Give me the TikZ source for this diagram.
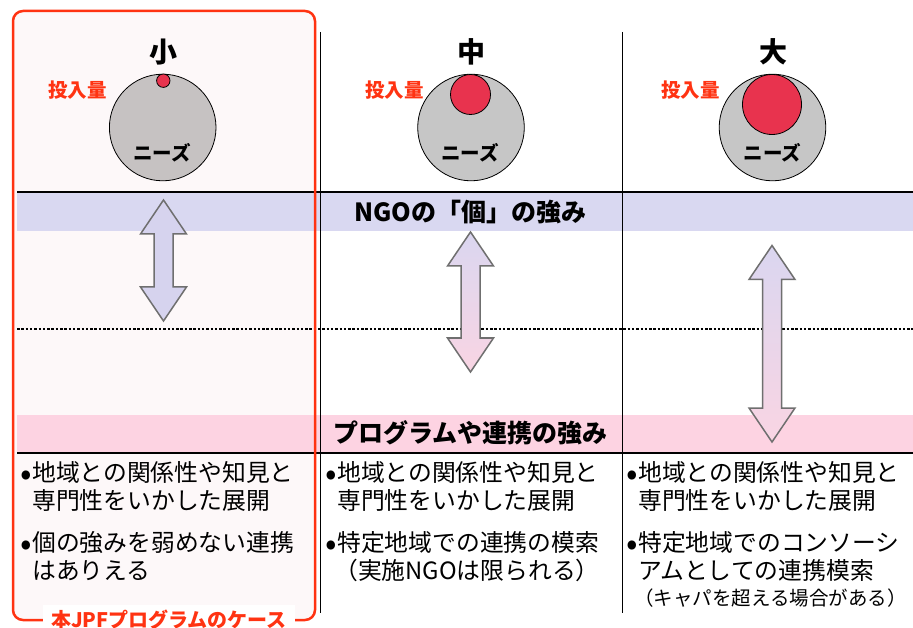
\documentclass[tikz,border=0pt]{standalone}
\usepackage{fontspec}
\setmainfont{Noto Sans CJK JP}
\definecolor{jred}{HTML}{FF3312}
\definecolor{rcol}{HTML}{E8334E}
\definecolor{gcolA}{HTML}{C6C2C2}
\definecolor{gcolB}{HTML}{C6C6C6}
\definecolor{lavband}{HTML}{D9D8F1}
\definecolor{pnkband}{HTML}{FDD3E2}
\definecolor{framebg}{HTML}{FDF8F9}
\definecolor{alav}{HTML}{D6D3EE}
\definecolor{alavtop}{HTML}{DAD6F0}
\definecolor{apink}{HTML}{F9D5E3}
\definecolor{agray}{HTML}{6F6F6F}
\newcommand\dblarr[4]{\path[#4] (#1,#2) -- (#1+23,#2+34) -- (#1+9.5,#2+34) -- (#1+9.5,#3-34) -- (#1+23,#3-34) -- (#1,#3) -- (#1-23,#3-34) -- (#1-9.5,#3-34) -- (#1-9.5,#2+34) -- (#1-23,#2+34) -- cycle;}
\tikzset{
  hdr/.style={font=\bfseries\fontsize{28}{30}\selectfont, anchor=base, inner sep=0pt},
  amt/.style={font=\bfseries\fontsize{19.5}{22}\selectfont, text=jred, anchor=base, inner sep=0pt},
  need/.style={font=\bfseries\fontsize{19.5}{22}\selectfont, anchor=base, inner sep=0pt},
  bandtxt/.style={font=\bfseries\fontsize{25}{27}\selectfont, anchor=base, inner sep=0pt},
  body/.style={font=\fontsize{23.8}{28}\selectfont, anchor=base west, inner sep=0pt},
  bul/.style={font=\fontsize{34}{36}\selectfont, anchor=base, inner sep=0pt},
  smalltxt/.style={font=\fontsize{19.5}{22}\selectfont, anchor=base west, inner sep=0pt},
  lbl/.style={font=\bfseries\fontsize{20}{22}\selectfont, text=jred, anchor=base, inner sep=0pt},
  arr/.style={draw=agray, line width=1.5pt, line join=miter},
  divider/.style={line width=1.6pt},
  gcirc/.style={draw=black, line width=0.8pt},
}
\begin{document}
\begin{tikzpicture}[x=1pt,y=-1pt]
\useasboundingbox (0,0) rectangle (913,628);
\fill[white] (0,0) rectangle (913,628);
% frame background
\fill[framebg, rounded corners=10pt] (13,11) rectangle (315,620);
% bands
\fill[lavband] (17,193) rectangle (913,231);
\fill[pnkband] (17,415) rectangle (913,453);
% horizontal lines
\draw[line width=2pt] (17,192.5) -- (913,192.5);
\draw[line width=2pt] (17,453) -- (913,453);
\draw[line width=1.3pt, dash pattern=on 2.5pt off 1.8pt] (17,329) -- (913,329);
% dividers
\draw[divider] (320.5,32) -- (320.5,613);
\draw[divider] (622.5,32) -- (622.5,613);
% frame border
\draw[jred, line width=2.5pt, rounded corners=10pt] (13,11) rectangle (315,620);
% circles
\draw[gcirc, fill=gcolA] (162.7,127.5) circle (53.3);
\draw[gcirc, fill=rcol] (163.3,80.7) circle (6.7);
\draw[gcirc, fill=gcolB] (471,127.5) circle (53.3);
\draw[gcirc, fill=rcol] (470.5,94.5) circle (20);
\draw[gcirc, fill=gcolB] (772.5,127.5) circle (53.3);
\draw[gcirc, fill=rcol] (772,104.5) ellipse (29.5 and 30);
% arrows
\dblarr{163.5}{200}{321}{arr, fill=alav}
\dblarr{470.5}{232}{372}{arr, top color=alavtop, bottom color=apink}
\dblarr{772}{245.5}{442}{arr, top color=alavtop, bottom color=apink}
% headings
\node[hdr] (hs) at (163,63) {小};
\node[hdr] (hm) at (471,63) {中};
\node[hdr] (hl) at (773,63) {大};
\node[amt] (a1) at (77.3,98) {投入量};
\node[amt] (a2) at (394.5,98) {投入量};
\node[amt] (a3) at (690.6,98) {投入量};
\node[need] (n1) at (162,161) {ニーズ};
\node[need] (n2) at (470,161) {ニーズ};
\node[need] (n3) at (772.5,161) {ニーズ};
\node[bandtxt] (b1) at (470.5,221.5) {NGOの「個」の強み};
\node[bandtxt] (b2) at (470.5,442) {プログラムや連携の強み};
% body column 1
\node[bul] (c1b1) at (26.5,485) {•};
\node[body] (c1l1) at (32,481) {地域との関係性や知見と};
\node[body] (c1l2) at (32,509) {専門性をいかした展開};
\node[bul] (c1b2) at (26.5,555) {•};
\node[body] (c1l3) at (32,551) {個の強みを弱めない連携};
\node[body] (c1l4) at (32,579) {はありえる};
% body column 2
\node[bul] (c2b1) at (331.5,485) {•};
\node[body] (c2l1) at (337,481) {地域との関係性や知見と};
\node[body] (c2l2) at (337,509) {専門性をいかした展開};
\node[bul] (c2b2) at (331.5,555) {•};
\node[body] (c2l3) at (337,551) {特定地域での連携の模索};
\node[body] (c2l4) at (334,579) {（実施NGOは限られる）};
% body column 3
\node[bul] (c3b1) at (632.5,485) {•};
\node[body] (c3l1) at (638,481) {地域との関係性や知見と};
\node[body] (c3l2) at (638,509) {専門性をいかした展開};
\node[bul] (c3b2) at (632.5,555) {•};
\node[body] (c3l3) at (638,551) {特定地域でのコンソーシ};
\node[body] (c3l4) at (638,579) {アムとしての連携模索};
\node[smalltxt] (c3l5) at (634,605) {（キャパを超える場合がある）};
% label
\fill[white] (43,605) rectangle (295,628);
\node[lbl] (lab) at (169,627) {本JPFプログラムのケース};
\end{tikzpicture}
\end{document}
